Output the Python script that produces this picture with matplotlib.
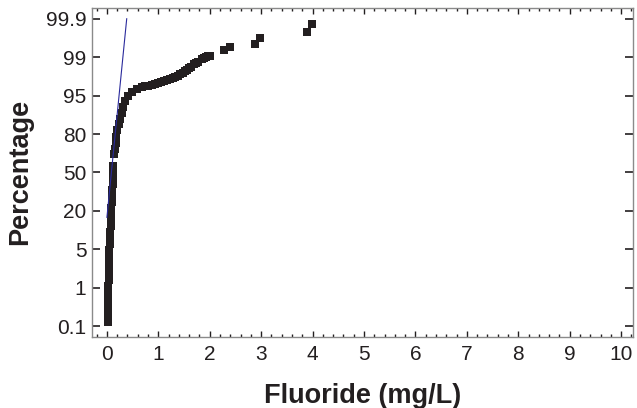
from statistics import NormalDist

import numpy as np
import matplotlib

matplotlib.use("Agg")
import matplotlib.pyplot as plt
from matplotlib.ticker import FixedLocator, MultipleLocator

plt.rcParams["font.family"] = ["Liberation Sans", "DejaVu Sans"]

# probability axis: ticks are drawn evenly spaced
prob_ticks = [0.1, 1, 5, 20, 50, 80, 95, 99, 99.9]
prob_labels = ["0.1", "1", "5", "20", "50", "80", "95", "99", "99.9"]

# fluoride concentration (mg/L) and cumulative percentage
fluoride = [
    0.02, 0.02, 0.02, 0.02, 0.03, 0.03, 0.03, 0.04, 0.04, 0.04,
    0.05, 0.05, 0.05, 0.06, 0.06, 0.06, 0.07, 0.07, 0.07, 0.08,
    0.09, 0.10, 0.10, 0.11, 0.11, 0.12, 0.12, 0.14, 0.15, 0.17,
    0.18, 0.20, 0.23, 0.26, 0.29, 0.32, 0.36, 0.41, 0.49, 0.58,
    0.68, 0.74, 0.80, 0.87, 0.93, 0.99, 1.05, 1.11, 1.17, 1.23,
    1.28, 1.33, 1.38, 1.43, 1.48, 1.52, 1.56, 1.60, 1.63, 1.69,
    1.73, 1.77, 1.85, 1.89, 1.93, 1.96, 2.00, 2.28, 2.39, 2.88,
    2.98, 3.89, 3.99,
]
percent = [
    0.13, 0.19, 0.28, 0.40, 0.56, 0.79, 1.08, 1.42, 1.85, 2.38,
    3.03, 3.84, 4.82, 6.17, 7.85, 9.85, 12.2, 14.9, 17.9, 21.6,
    25.6, 30.0, 34.7, 39.6, 44.8, 50.0, 55.2, 65.3, 70.0, 74.4,
    78.4, 82.0, 85.1, 87.8, 90.1, 92.1, 93.8, 95.0, 95.7, 96.16,
    96.37, 96.47, 96.58, 96.71, 96.83, 96.97, 97.08, 97.20, 97.31, 97.42,
    97.52, 97.62, 97.71, 97.86, 97.99, 98.12, 98.24, 98.35, 98.45, 98.65,
    98.71, 98.76, 98.92, 98.975, 99.03, 99.06, 99.08, 99.33, 99.44, 99.53,
    99.66, 99.77, 99.86,
]

# fitted normal line (end points)
fit_x = [0.0, 0.385]
fit_p = [16.4, 99.9]

_nd = NormalDist()
_z_ticks = [_nd.inv_cdf(p / 100) for p in prob_ticks]
_z_ext = np.array([2 * _z_ticks[0] - _z_ticks[1]] + _z_ticks + [2 * _z_ticks[-1] - _z_ticks[-2]])
_i_ext = np.arange(-1, len(prob_ticks) + 1, dtype=float)
_inv_cdf = np.vectorize(lambda q: _nd.inv_cdf(q) if np.isfinite(q) else np.nan, otypes=[float])
_cdf = np.vectorize(lambda z: _nd.cdf(z) if np.isfinite(z) else np.nan, otypes=[float])


def prob_forward(values):
    v = np.clip(np.asarray(values, dtype=float), 1e-7, 100 - 1e-7)
    return np.interp(_inv_cdf(v / 100), _z_ext, _i_ext)


def prob_inverse(values):
    v = np.asarray(values, dtype=float)
    return _cdf(np.interp(v, _i_ext, _z_ext)) * 100


text_color = "#231f20"

fig = plt.figure(figsize=(6.37, 4.08), dpi=100)
ax = fig.add_axes([92 / 637, 1 - 336.5 / 408, (633 - 92) / 637, (336.5 - 8) / 408])
ax.set_yscale("function", functions=(prob_forward, prob_inverse))

ax.plot(fluoride, percent, linestyle="none", marker="s", markersize=5.8,
        color="#231f20", markeredgewidth=0, zorder=2)
ax.plot(fit_x, fit_p, color="#2a2a9c", linewidth=0.8, zorder=3)

ax.set_xlim(-0.29, 10.23)
ax.set_ylim(prob_inverse(-0.27), prob_inverse(8.28))

ax.xaxis.set_major_locator(MultipleLocator(1))
ax.xaxis.set_minor_locator(MultipleLocator(0.2))
ax.yaxis.set_major_locator(FixedLocator(prob_ticks))
ax.set_yticklabels(prob_labels)
ax.yaxis.set_minor_locator(FixedLocator([]))

ax.tick_params(axis="x", which="major", direction="in", length=4, width=1,
               top=True, labelsize=15, pad=6, colors=text_color)
ax.tick_params(axis="x", which="minor", direction="in", length=2.2, width=1,
               top=True, colors=text_color)
ax.tick_params(axis="y", which="major", direction="in", length=6, width=1.2,
               right=True, labelsize=15, pad=4, colors=text_color)

for spine in ax.spines.values():
    spine.set_color("#8a8a8a")
    spine.set_linewidth(1)

ax.set_xlabel("Fluoride (mg/L)", fontsize=19.5, fontweight="bold", color=text_color, labelpad=14)
ax.set_ylabel("Percentage", fontsize=19.5, fontweight="bold", color=text_color, labelpad=9)

fig.savefig("out.png", dpi=100)
